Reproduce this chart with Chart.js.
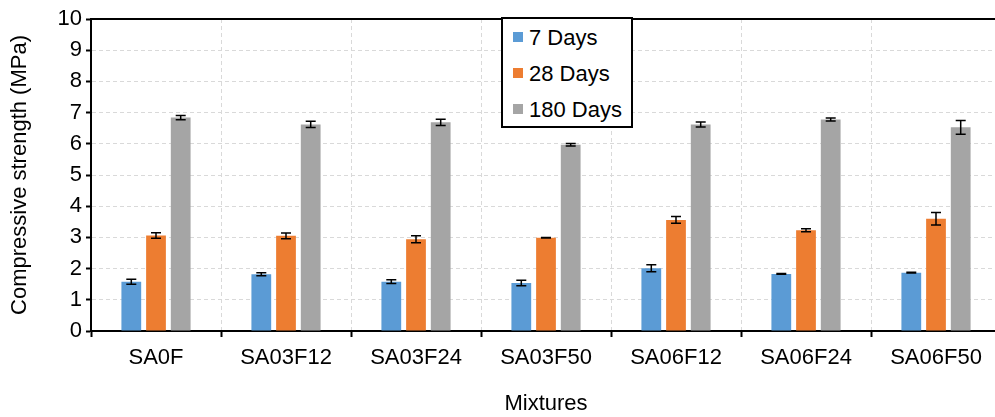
<!DOCTYPE html>
<html>
<head>
<meta charset="utf-8">
<script src="https://cdn.jsdelivr.net/npm/chart.js@4.4.1/dist/chart.umd.min.js"></script>
<style>
  body { margin: 0; overflow: hidden; background: #fff; font-family: "Liberation Sans", Arial, sans-serif; }
  #wrap { position: relative; width: 1001px; height: 417px; }
  #legend {
    position: absolute; left: 501px; top: 17px; width: 128px; height: 107px;
    border: 2px solid #000; background: #fff; padding: 0;
  }
  .item { position: absolute; left: 10px; font-size: 22px; color: #000; line-height: 26px; white-space: nowrap; }
  .item span { display: inline-block; width: 10px; height: 10px; margin-right: 6px; vertical-align: 3px; }
</style>
</head>
<body>
<div id="wrap">
  <canvas id="chart" width="1001" height="417"></canvas>
  <div id="legend"></div>
</div>
<script>
const mixtures = ['SA0F', 'SA03F12', 'SA03F24', 'SA03F50', 'SA06F12', 'SA06F24', 'SA06F50'];
const seriesLabels = ['7 Days', '28 Days', '180 Days'];
const seriesColors = ['#5B9BD5', '#ED7D31', '#A5A5A5'];

// 압축강도 평균값 (MPa)
const days7 = [1.58, 1.82, 1.58, 1.54, 2.01, 1.83, 1.87];
const days28 = [3.06, 3.05, 2.94, 2.99, 3.56, 3.23, 3.60];
const days180 = [6.84, 6.62, 6.69, 5.97, 6.62, 6.78, 6.53];

// 표준편차 (오차 막대)
const err7 = [0.08, 0.05, 0.06, 0.09, 0.11, 0.01, 0.01];
const err28 = [0.09, 0.09, 0.11, 0.01, 0.11, 0.05, 0.20];
const err180 = [0.07, 0.10, 0.10, 0.04, 0.08, 0.05, 0.22];

const yTicks = [0, 1, 2, 3, 4, 5, 6, 7, 8, 9, 10];

const values = [days7, days28, days180];
const errors = [err7, err28, err180];

// 오차 막대 그리기
const errorBars = {
    id: 'errorBars',
    afterDatasetsDraw(chart) {
        const ctx = chart.ctx;
        const y = chart.scales.y;
        ctx.save();
        ctx.strokeStyle = '#000';
        ctx.lineWidth = 1.5;
        chart.data.datasets.forEach((ds, di) => {
            chart.getDatasetMeta(di).data.forEach((bar, i) => {
                const v = ds.data[i];
                const e = errors[di][i];
                const top = y.getPixelForValue(v + e);
                const bot = y.getPixelForValue(v - e);
                ctx.beginPath();
                ctx.moveTo(bar.x, top); ctx.lineTo(bar.x, bot);
                ctx.moveTo(bar.x - 5, top); ctx.lineTo(bar.x + 5, top);
                ctx.moveTo(bar.x - 5, bot); ctx.lineTo(bar.x + 5, bot);
                ctx.stroke();
            });
        });
        ctx.restore();
    }
};

// 위쪽/오른쪽 테두리
const frame = {
    id: 'frame',
    afterDraw(chart) {
        const { ctx, chartArea: a } = chart;
        ctx.save();
        ctx.strokeStyle = '#000';
        ctx.lineWidth = 2;
        ctx.beginPath();
        ctx.moveTo(a.left, a.top); ctx.lineTo(a.right, a.top); ctx.lineTo(a.right, a.bottom);
        ctx.stroke();
        ctx.restore();
    }
};

const font = { family: '"Liberation Sans", Arial, sans-serif', size: 22 };

new Chart(document.getElementById('chart'), {
    type: 'bar',
    data: {
        labels: mixtures,
        datasets: values.map((d, i) => ({
            label: seriesLabels[i],
            data: d,
            backgroundColor: seriesColors[i],
            borderWidth: 0,
            categoryPercentage: 0.57,
            barPercentage: 0.8
        }))
    },
    options: {
        responsive: false,
        animation: false,
        layout: { padding: { top: 19, right: 0, left: 0, bottom: 0 } },
        plugins: { legend: { display: false }, tooltip: { enabled: false } },
        scales: {
            x: {
                grid: { color: '#D9D9D9', lineWidth: 1, tickColor: '#000', tickWidth: 2, tickLength: 6, tickBorderDash: [] },
                border: { color: '#000', width: 2, dash: [4, 3] },
                ticks: { color: '#000', font, padding: 8, maxRotation: 0 },
                title: { display: true, text: 'Mixtures', color: '#000', font, padding: { top: 0, bottom: 0 } },
                afterFit(s) { s.height = 86; }
            },
            y: {
                min: 0, max: 10,
                afterBuildTicks(s) { s.ticks = yTicks.map(v => ({ value: v })); },
                grid: { color: '#D9D9D9', lineWidth: 1, tickColor: '#000', tickWidth: 2, tickLength: 5, tickBorderDash: [] },
                border: { color: '#000', width: 2, dash: [4, 3] },
                ticks: { color: '#000', font, padding: 4 },
                title: { display: true, text: 'Compressive strength (MPa)', color: '#000', font, padding: { top: 7, bottom: 0 } },
                afterFit(s) { s.width = 91; }
            }
        }
    },
    plugins: [errorBars, frame]
});

// 범례
document.getElementById('legend').innerHTML = seriesLabels.map((t, i) =>
    `<div class="item" style="top:${6 + i * 36}px"><span style="background:${seriesColors[i]}"></span>${t}</div>`
).join('');
</script>
</body>
</html>
